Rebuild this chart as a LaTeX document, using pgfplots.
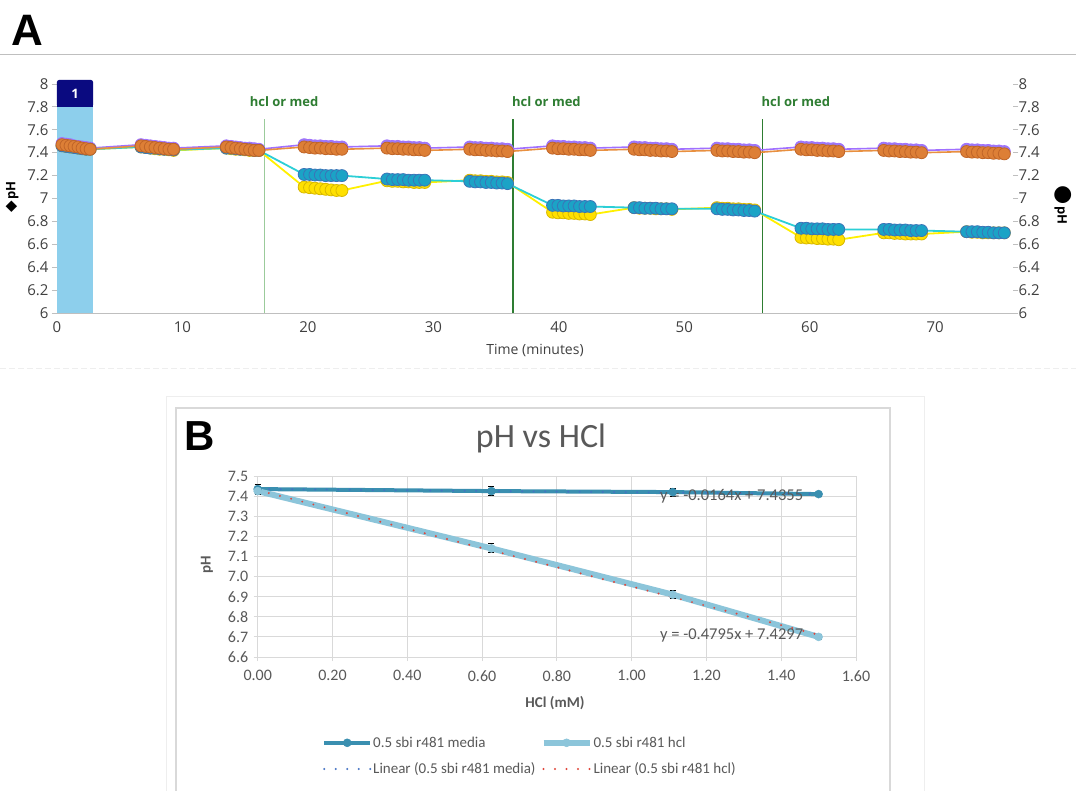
\documentclass[border=0pt]{standalone}
\usepackage{fontspec}
\usepackage{pgfplots}
\pgfplotsset{compat=1.18}
\usepackage{pgfplotstable}
\setmainfont{Open Sans}
\newfontfamily\carlito{Carlito}
\newfontfamily\lsans{Liberation Sans}
\newfontfamily\dejavu{DejaVu Sans}

\definecolor{barblue}{HTML}{8DCFEC}
\definecolor{navybox}{HTML}{0A0A80}
\definecolor{dkgreen}{HTML}{2E7D32}
\definecolor{ltgreen}{HTML}{9BCB9B}
\definecolor{g404040}{HTML}{404040}
\definecolor{g595959}{HTML}{595959}
\definecolor{gBFBFBF}{HTML}{BFBFBF}
\definecolor{gD9D9D9}{HTML}{D9D9D9}
\definecolor{gEEEEEE}{HTML}{EEEEEE}
\definecolor{purpleline}{HTML}{A070FF}
\definecolor{purplefill}{HTML}{9A7CF0}
\definecolor{orangeline}{HTML}{E89040}
\definecolor{orangefill}{HTML}{DD7F36}
\definecolor{orangedraw}{HTML}{C06528}
\definecolor{cyanline}{HTML}{2CCFD6}
\definecolor{cyanfill}{HTML}{1BA3C6}
\definecolor{cyandraw}{HTML}{3A74B8}
\definecolor{yellowline}{HTML}{FFF000}
\definecolor{yellowfill}{HTML}{FFE000}
\definecolor{yellowdraw}{HTML}{D8B800}
\definecolor{mediaB}{HTML}{3A8FB0}
\definecolor{hclB}{HTML}{8CC5DA}
\definecolor{trendblue}{HTML}{4472C4}
\definecolor{trendred}{HTML}{E0453A}

\pgfplotstableread{
tm pu or cy ye
0.40 7.48 7.47 7.46 7.46
0.72 7.475 7.465 7.455 7.455
1.04 7.47 7.46 7.45 7.45
1.36 7.46 7.455 7.445 7.445
1.68 7.455 7.45 7.44 7.44
2.00 7.45 7.44 7.435 7.435
2.32 7.445 7.435 7.43 7.43
2.64 7.44 7.43 7.43 7.43
6.70 7.47 7.46 7.45 7.45
7.07 7.465 7.455 7.445 7.445
7.44 7.46 7.45 7.44 7.44
7.81 7.455 7.445 7.44 7.435
8.18 7.45 7.44 7.435 7.43
8.55 7.445 7.435 7.43 7.43
8.92 7.44 7.43 7.43 7.425
9.29 7.44 7.43 7.425 7.42
13.50 7.46 7.45 7.44 7.44
13.87 7.455 7.445 7.44 7.435
14.24 7.45 7.44 7.435 7.43
14.61 7.445 7.435 7.43 7.43
14.98 7.44 7.43 7.43 7.425
15.35 7.44 7.425 7.425 7.42
15.72 7.435 7.42 7.42 7.42
16.09 7.43 7.42 7.42 7.42
19.70 7.47 7.45 7.21 7.10
20.13 7.465 7.445 7.21 7.095
20.56 7.46 7.44 7.205 7.09
20.99 7.46 7.44 7.205 7.085
21.42 7.455 7.435 7.20 7.08
21.85 7.455 7.435 7.20 7.075
22.28 7.45 7.43 7.20 7.07
22.71 7.45 7.43 7.20 7.07
26.30 7.46 7.44 7.17 7.155
26.73 7.455 7.435 7.165 7.15
27.16 7.455 7.435 7.165 7.15
27.59 7.45 7.43 7.165 7.145
28.02 7.45 7.43 7.16 7.145
28.45 7.445 7.425 7.16 7.14
28.88 7.445 7.425 7.16 7.14
29.31 7.44 7.42 7.16 7.14
32.90 7.45 7.43 7.15 7.16
33.33 7.445 7.425 7.145 7.155
33.76 7.445 7.425 7.145 7.155
34.19 7.44 7.42 7.14 7.15
34.62 7.44 7.42 7.14 7.15
35.05 7.435 7.415 7.135 7.145
35.48 7.435 7.415 7.135 7.145
35.91 7.43 7.41 7.13 7.14
39.50 7.46 7.44 6.94 6.88
39.93 7.455 7.435 6.94 6.875
40.36 7.455 7.435 6.935 6.875
40.79 7.45 7.43 6.935 6.87
41.22 7.45 7.43 6.935 6.87
41.65 7.445 7.425 6.93 6.865
42.08 7.445 7.425 6.93 6.865
42.51 7.44 7.42 6.93 6.86
46.00 7.45 7.43 6.92 6.92
46.43 7.445 7.425 6.92 6.915
46.86 7.445 7.425 6.915 6.915
47.29 7.44 7.42 6.915 6.915
47.72 7.44 7.42 6.915 6.91
48.15 7.435 7.415 6.91 6.91
48.58 7.435 7.415 6.91 6.91
49.01 7.43 7.41 6.91 6.905
52.60 7.44 7.42 6.91 6.92
53.03 7.435 7.415 6.905 6.915
53.46 7.435 7.415 6.905 6.915
53.89 7.43 7.41 6.90 6.91
54.32 7.43 7.41 6.90 6.91
54.75 7.425 7.405 6.895 6.905
55.18 7.425 7.405 6.895 6.905
55.61 7.42 7.40 6.89 6.90
59.30 7.45 7.43 6.74 6.66
59.73 7.445 7.425 6.74 6.655
60.16 7.445 7.425 6.735 6.655
60.59 7.44 7.42 6.735 6.65
61.02 7.44 7.42 6.735 6.65
61.45 7.435 7.415 6.73 6.645
61.88 7.435 7.415 6.73 6.645
62.31 7.43 7.41 6.73 6.64
65.90 7.44 7.42 6.73 6.70
66.33 7.435 7.415 6.73 6.70
66.76 7.435 7.415 6.725 6.695
67.19 7.43 7.41 6.725 6.695
67.62 7.43 7.41 6.725 6.69
68.05 7.425 7.405 6.72 6.69
68.48 7.425 7.405 6.72 6.69
68.91 7.42 7.40 6.72 6.69
72.50 7.43 7.41 6.71 6.71
72.93 7.425 7.405 6.71 6.705
73.36 7.425 7.405 6.71 6.705
73.79 7.42 7.40 6.705 6.70
74.22 7.42 7.40 6.705 6.70
74.65 7.415 7.395 6.70 6.70
75.08 7.415 7.395 6.70 6.70
75.51 7.41 7.39 6.70 6.70
}\tblA

\pgfplotstableread{
hx hy he
0 7.435 0.022
0.625 7.425 0.022
1.11 7.42 0.020
1.5 7.41 0.010
}\tblMedia

\pgfplotstableread{
hx hy he
0 7.425 0.015
0.625 7.14 0.022
1.11 6.91 0.020
1.5 6.70 0.012
}\tblHcl

\pgfplotstableread{
hx hy
0 7.4355
1.5 7.4109
}\tblTrendMedia

\pgfplotstableread{
hx hy
0 7.4297
1.5 6.7105
}\tblTrendHcl

\begin{document}
\begin{tikzpicture}
\useasboundingbox (0pt,0pt) rectangle (1076pt,-791pt);
\fill[white] (0pt,0pt) rectangle (1076pt,-791pt);

% panel A decorations
\draw[gBFBFBF, line width=1pt] (0pt,-55pt) -- (1076pt,-55pt);
\node[font=\lsans\bfseries\fontsize{44}{44}\selectfont, anchor=center] at (27pt,-30pt) {A};
\draw[gEEEEEE, line width=1pt, dash pattern=on 6pt off 3pt] (0pt,-369pt) -- (1076pt,-369pt);

% y labels of A
\node[rotate=90, font=\fontsize{13}{15}\selectfont, text=black] at (12pt,-197pt) {{\dejavu\fontsize{15}{15}\selectfont ◆}\,\textbf{pH}};
\node[rotate=-90, font=\fontsize{13}{15}\selectfont, text=black] at (1063pt,-205pt) {{\dejavu\fontsize{22}{22}\selectfont ●}\,\textbf{pH}};

% ===== Panel A main axis =====
\begin{axis}[
  at={(57pt,-313pt)}, anchor=south west, scale only axis,
  width=956pt, height=229pt,
  xmin=0, xmax=76.2, ymin=6, ymax=8,
  axis x line*=bottom, axis y line*=left,
  x axis line style={draw=gBFBFBF, line width=1pt},
  y axis line style={draw=gBFBFBF, line width=0.6pt},
  xtick={0,10,20,30,40,50,60,70},
  ytick={6,6.2,6.4,6.6,6.8,7,7.2,7.4,7.6,7.8,8},
  /pgf/number format/assume math mode=true,
  tick label style={font=\fontsize{15}{18}\selectfont, text=g404040},
  xtick style={draw=none},
  ytick style={draw=gBFBFBF, line width=0.8pt},
  tick align=outside, major tick length=5pt,
  clip=false,
  xlabel={Time (minutes)},
  xlabel style={font=\fontsize{14}{16}\selectfont, text=g404040, at={(axis description cs:0.5,-0.162)}, anchor=center},
]
\fill[barblue] (axis cs:0,6) rectangle (axis cs:2.87,7.8);
\fill[navybox, rounded corners=2pt] (axis cs:0,7.8) rectangle (axis cs:2.87,8.035);
\fill[navybox] (axis cs:0,7.8) rectangle (axis cs:2.87,7.9);
\node[font=\bfseries\fontsize{13}{13}\selectfont, text=white] at (axis cs:1.435,7.915) {1};

\draw[ltgreen, line width=1.2pt] (axis cs:16.54,6) -- (axis cs:16.54,7.69);
\draw[dkgreen, line width=1.5pt] (axis cs:36.34,6) -- (axis cs:36.34,7.69);
\draw[dkgreen, line width=1.5pt] (axis cs:56.22,6) -- (axis cs:56.22,7.69);
\node[anchor=west, inner sep=0pt, font=\bfseries\fontsize{13}{15}\selectfont, text=dkgreen] at (axis cs:15.35,7.85) {hcl or med};
\node[anchor=west, inner sep=0pt, font=\bfseries\fontsize{13}{15}\selectfont, text=dkgreen] at (axis cs:36.26,7.85) {hcl or med};
\node[anchor=west, inner sep=0pt, font=\bfseries\fontsize{13}{15}\selectfont, text=dkgreen] at (axis cs:56.14,7.85) {hcl or med};

\addplot[purpleline, line width=1.6pt, mark=*, mark size=6pt, mark options={fill=purplefill, draw=purpleline, line width=0.8pt}] table[x=tm, y=pu]{\tblA};
\addplot[yellowline, line width=1.8pt, mark=*, mark size=6pt, mark options={fill=yellowfill, draw=yellowdraw, line width=0.8pt}] table[x=tm, y=ye]{\tblA};
\addplot[cyanline, line width=1.8pt, mark=*, mark size=6pt, mark options={fill=cyanfill, draw=cyandraw, line width=0.8pt}] table[x=tm, y=cy]{\tblA};
\addplot[orangeline, line width=1.6pt, mark=*, mark size=6pt, mark options={fill=orangefill, draw=orangedraw, line width=0.8pt}] table[x=tm, y=or]{\tblA};
\end{axis}

% right y axis of A
\begin{axis}[
  at={(57pt,-313pt)}, anchor=south west, scale only axis,
  width=956pt, height=229pt,
  xmin=0, xmax=76.2, ymin=6, ymax=8,
  axis x line=none, axis y line*=right,
  y axis line style={draw=none},
  ytick={6,6.2,6.4,6.6,6.8,7,7.2,7.4,7.6,7.8,8},
  /pgf/number format/assume math mode=true,
  tick label style={font=\fontsize{15}{18}\selectfont, text=g404040},
  ytick style={draw=gBFBFBF, line width=0.8pt},
  tick align=outside, major tick length=5pt,
  yticklabel style={xshift=-3pt},
]
\end{axis}

% ===== Panel B =====
\draw[gEEEEEE, line width=0.8pt] (166pt,-791pt) -- (166pt,-396pt) -- (924pt,-396pt) -- (924pt,-791pt);
\draw[gD9D9D9, line width=1.2pt] (176pt,-791pt) -- (176pt,-408pt) -- (890pt,-408pt) -- (890pt,-791pt);
\node[font=\lsans\bfseries\fontsize{42}{42}\selectfont, anchor=center] at (200pt,-436pt) {B};

\begin{axis}[
  at={(257.7pt,-657pt)}, anchor=south west, scale only axis,
  width=598.3pt, height=181pt,
  xmin=0, xmax=1.6, ymin=6.6, ymax=7.5,
  xtick={0,0.2,0.4,0.6,0.8,1.0,1.2,1.4,1.6},
  ytick={6.6,6.7,6.8,6.9,7.0,7.1,7.2,7.3,7.4,7.5},
  xticklabel style={yshift=-6pt, /pgf/number format/.cd, fixed, fixed zerofill, precision=2},
  yticklabel style={xshift=-2pt, /pgf/number format/.cd, fixed, fixed zerofill, precision=1},
  /pgf/number format/assume math mode=true,
  grid=major, major grid style={draw=gD9D9D9, line width=0.8pt},
  axis line style={draw=gD9D9D9, line width=0.8pt},
  xtick pos=bottom, ytick pos=left, tick align=outside, major tick length=4pt,
  tick style={draw=gD9D9D9, line width=0.8pt},
  tick label style={font=\carlito\fontsize{16}{18}\selectfont, text=g595959},
  clip=false,
  legend columns=2,
  legend style={at={(axis description cs:0.1075,-0.44)}, anchor=north west, draw=none, fill=none,
    font=\carlito\fontsize{15}{17}\selectfont, text=g595959, inner sep=0pt, row sep=14pt,
    nodes={inner sep=0pt},
    /tikz/every even column/.append style={column sep=5pt},
    /tikz/every odd column/.append style={column sep=1pt}},
  legend cell align=left,
  legend image code/.code={\draw[mark repeat=2, mark phase=2, #1] plot coordinates {(0pt,0pt) (23pt,0pt) (46pt,0pt)};},
]
\addplot[mediaB, line width=4pt, mark=*, mark size=4pt, mark options={fill=mediaB, draw=mediaB, line width=0.5pt},
  error bars/.cd, y dir=both, y explicit, error bar style={black, line width=1pt}, error mark options={rotate=90, mark size=3pt, black, line width=1pt}]
  table[x=hx, y=hy, y error=he]{\tblMedia};
\addlegendentry{0.5 sbi r481 media}
\addplot[hclB, line width=6pt, mark=*, mark size=4pt, mark options={fill=hclB, draw=hclB, line width=0.5pt},
  error bars/.cd, y dir=both, y explicit, error bar style={black, line width=1pt}, error mark options={rotate=90, mark size=3pt, black, line width=1pt}]
  table[x=hx, y=hy, y error=he]{\tblHcl};
\addlegendentry{0.5 sbi r481 hcl}
\addplot[trendblue, line width=2.2pt, line cap=round, dash pattern=on 0pt off 11.5pt] table[x=hx, y=hy]{\tblTrendMedia};
\addlegendentry{Linear (0.5 sbi r481 media)}
\addplot[trendred, line width=2.2pt, line cap=round, dash pattern=on 0pt off 11.5pt] table[x=hx, y=hy]{\tblTrendHcl};
\addlegendentry{Linear (0.5 sbi r481 hcl)}

\node[anchor=west, inner sep=0pt, font=\carlito\fontsize{16.5}{18}\selectfont, text=g595959] at (axis cs:1.0757,7.397) {y = -0.0164x + 7.4355};
\node[anchor=west, inner sep=0pt, font=\carlito\fontsize{16.5}{18}\selectfont, text=g595959] at (axis cs:1.0757,6.708) {y = -0.4795x + 7.4297};

\node[font=\carlito\fontsize{34}{36}\selectfont, text=g595959] at (axis description cs:0.4735,1.205) {pH vs HCl};
\node[rotate=90, font=\carlito\bfseries\fontsize{15}{17}\selectfont, text=g595959] at (axis description cs:-0.0847,0.508) {pH};
\node[font=\carlito\bfseries\fontsize{15}{17}\selectfont, text=g595959] at (axis description cs:0.497,-0.254) {HCl (mM)};
\end{axis}
\end{tikzpicture}
\end{document}
